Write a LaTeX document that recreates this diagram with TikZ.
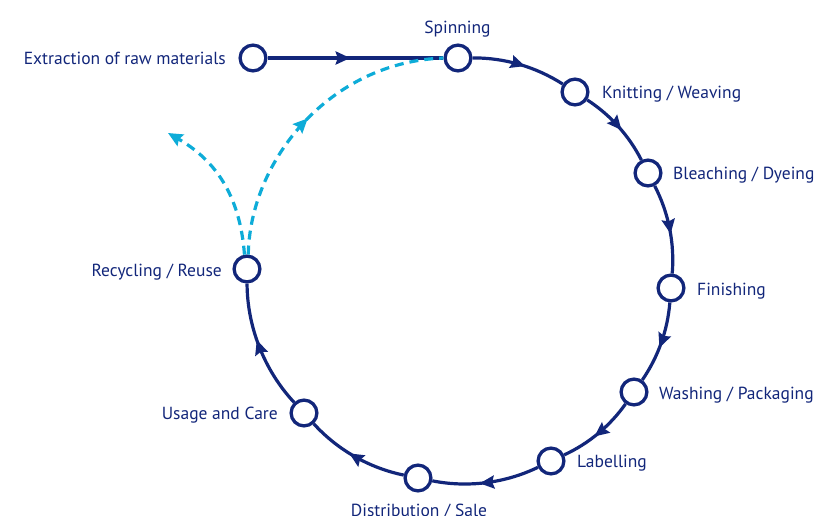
\documentclass[tikz,border=0pt]{standalone}
\usepackage{fontspec}
\setmainfont{PT Sans}
\usetikzlibrary{arrows.meta,decorations.markings}
\definecolor{navy}{RGB}{18,38,122}
\definecolor{cyanline}{RGB}{14,172,216}
\begin{document}
\begin{tikzpicture}[x=1pt,y=-1pt,
  stage/.style={circle,draw=navy,fill=white,line width=3.3pt,minimum size=25.8pt,inner sep=0pt},
  lbl/.style={text=navy,font=\fontsize{17.5}{19}\selectfont,inner sep=0pt},
  flow/.style={draw=navy,line width=3.2pt,looseness=0.87},
  midarrow/.style={postaction={decorate},decoration={markings,mark=at position #1 with {\arrow[navy]{Stealth[length=14.5pt,width=13pt,inset=2pt]}}}},
  dflow/.style={draw=cyanline,line width=3.2pt,dash pattern=on 9pt off 6pt},
  cmidarrow/.style={postaction={decorate},decoration={markings,mark=at position #1 with {\arrow[cyanline]{Stealth[length=14.5pt,width=13pt,inset=2pt]}}}}
]
\useasboundingbox (0,0) rectangle (820,515);
% stages
\node[stage] (extr) at (253,58) {};
\node[stage] (spin) at (458,58) {};
\node[stage] (knit) at (575,92) {};
\node[stage] (blea) at (648,173) {};
\node[stage] (fini) at (671,288) {};
\node[stage] (wash) at (634,392) {};
\node[stage] (labl) at (551,461) {};
\node[stage] (dist) at (418,478) {};
\node[stage] (usag) at (304,413) {};
\node[stage] (recy) at (247,269) {};
% labels
\node[lbl,anchor=base east] (textr) at (226,64) {Extraction of raw materials};
\node[lbl,anchor=base] (tspin) at (457.5,33) {Spinning};
\node[lbl,anchor=base west] (tknit) at (602,98) {Knitting / Weaving};
\node[lbl,anchor=base west] (tblea) at (673,179) {Bleaching / Dyeing};
\node[lbl,anchor=base west] (tfini) at (697,295) {Finishing};
\node[lbl,anchor=base west] (twash) at (659,399) {Washing / Packaging};
\node[lbl,anchor=base west] (tlabl) at (577,467) {Labelling};
\node[lbl,anchor=base] (tdist) at (419,516) {Distribution / Sale};
\node[lbl,anchor=base east] (trecy) at (222,276) {Recycling / Reuse};
\node[lbl,anchor=base east] (tusag) at (278,419) {Usage and Care};
% solid flow
\draw[flow,midarrow=0.47] (extr) -- (spin);
\draw[flow,midarrow=0.56] (spin) to[bend left=16.6] (knit);
\draw[flow,midarrow=0.56] (knit) to[bend left=15] (blea);
\draw[flow,midarrow=0.56] (blea) to[bend left=16.1] (fini);
\draw[flow,midarrow=0.56] (fini) to[bend left=15] (wash);
\draw[flow,midarrow=0.56] (wash) to[bend left=14.9] (labl);
\draw[flow,midarrow=0.56] (labl) to[bend left=18.5] (dist);
\draw[flow,midarrow=0.56] (dist) to[bend left=18.1] (usag);
\draw[flow,midarrow=0.56] (usag) to[bend left=21.4] (recy);
% dashed recycling loops
\draw[dflow,cmidarrow=0.5] (recy.85) .. controls (250,160) and (330,62) .. (spin.west);
\coordinate (ltip) at (168,133);
\draw[dflow,-{Stealth[length=14.5pt,width=13pt,inset=2pt]}] (recy.100) .. controls (240,195) and (215,160) .. (ltip);
\end{tikzpicture}
\end{document}
